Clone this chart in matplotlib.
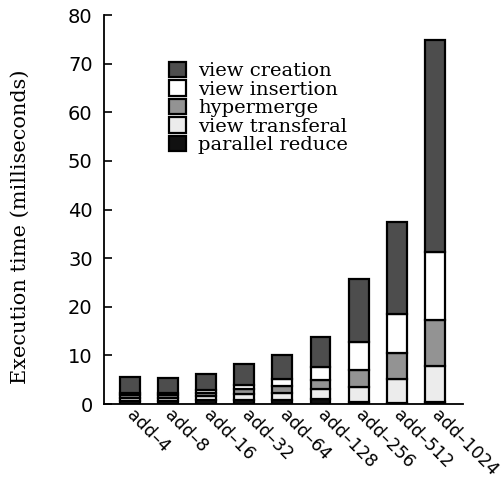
import numpy as np
import matplotlib.pyplot as plt

benchmarks = ['add\u20134', 'add\u20138', 'add\u201316', 'add\u201332', 'add\u201364',
              'add\u2013128', 'add\u2013256', 'add\u2013512', 'add\u20131024']
series = ['view creation', 'view insertion', 'hypermerge', 'view transferal', 'parallel reduce']

# milliseconds
parallel_reduce = [0.7, 0.7, 0.9, 0.8, 0.8, 1.0, 0.4, 0.3, 0.4]
view_transferal = [0.6, 0.6, 0.7, 1.2, 1.5, 2.1, 3.0, 4.8, 7.4]
hypermerge = [0.55, 0.55, 0.7, 1.1, 1.5, 1.8, 3.6, 5.3, 9.5]
view_insertion = [0.45, 0.45, 0.6, 0.8, 1.3, 2.8, 5.8, 8.1, 14.0]
view_creation = [3.2, 3.1, 3.3, 4.3, 5.0, 6.0, 12.9, 18.9, 43.6]

colors = {'view creation': '#4d4d4d', 'view insertion': 'white',
          'hypermerge': '#939393', 'view transferal': '#ececec',
          'parallel reduce': '#111111'}

fig = plt.figure(figsize=(5.04, 4.93), dpi=100)
ax = fig.add_axes([0.206, 0.1805, 0.713, 0.789])

x = np.arange(len(benchmarks))
stack = [('parallel reduce', parallel_reduce), ('view transferal', view_transferal),
         ('hypermerge', hypermerge), ('view insertion', view_insertion),
         ('view creation', view_creation)]
bottom = np.zeros(len(benchmarks))
handles = {}
for name, vals in stack:
    vals = np.array(vals)
    b = ax.bar(x, vals, 0.52, bottom=bottom, color=colors[name],
               edgecolor='black', linewidth=1.6, zorder=2)
    handles[name] = b
    bottom += vals

ax.set_xlim(-0.68, 8.74)
ax.set_ylim(0, 80)
ax.set_yticks(range(0, 81, 10))
ax.set_xticks(x)
ax.set_xticklabels(benchmarks, rotation=-45, ha='left', va='center',
                   rotation_mode='anchor', fontsize=12.5, family='DejaVu Sans')
ax.tick_params(axis='x', length=0, pad=6)
ax.tick_params(axis='y', direction='in', length=6, width=1.2, labelsize=14, pad=8)
for lab in ax.get_yticklabels():
    lab.set_family('DejaVu Sans')
ax.spines['top'].set_visible(False)
ax.spines['right'].set_visible(False)
ax.spines['left'].set_linewidth(1.3)
ax.spines['bottom'].set_linewidth(1.3)
ax.set_ylabel('Execution time (milliseconds)', fontsize=15, family='DejaVu Serif')
ax.yaxis.set_label_coords(-0.205, 0.455)

leg = ax.legend([handles[s] for s in series], series, loc='upper left',
                bbox_to_anchor=(0.133, 0.925), frameon=False,
                prop={'family': 'DejaVu Serif', 'size': 14},
                handlelength=0.85, handleheight=0.85, handletextpad=0.65,
                labelspacing=0.0)

fig.savefig('out.png', dpi=100)
